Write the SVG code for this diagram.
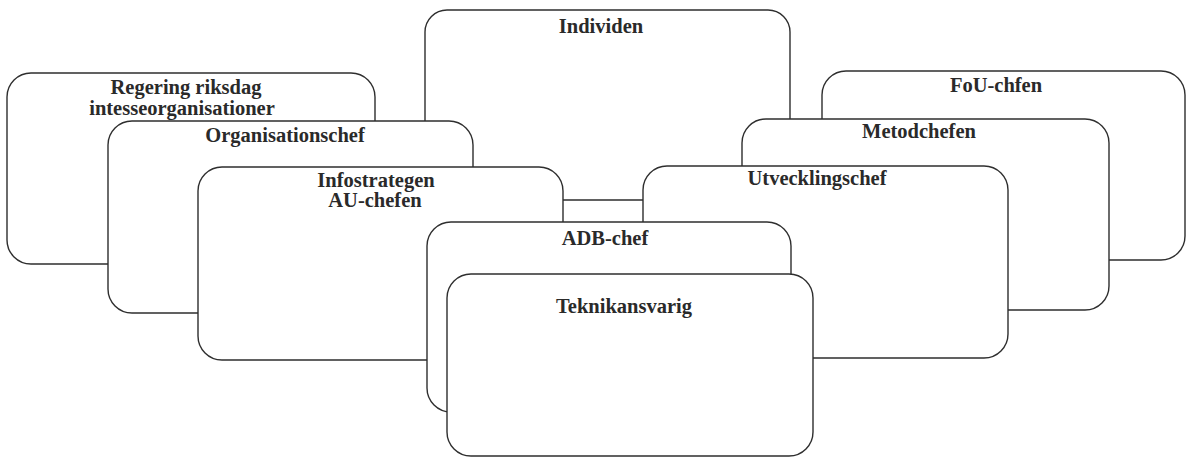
<svg xmlns="http://www.w3.org/2000/svg" width="1186" height="458" viewBox="0 0 1186 458">
<style>
.box{fill:#fff;stroke:#2e2e2e;stroke-width:1.4}
.t{font-family:"Liberation Serif","Times New Roman",serif;font-weight:bold;font-size:20.5px;fill:#2a2a2a;text-anchor:middle}
</style>
<rect width="1186" height="458" fill="#fff"/>
<g id="individen"><rect class="box" x="425" y="10" width="365" height="190" rx="22"/><text class="t" x="601" y="33">Individen</text></g>
<g id="regering"><rect class="box" x="7" y="73" width="368" height="191" rx="24"/><text class="t" x="186" y="94">Regering riksdag</text><text class="t" x="182" y="115">intesseorganisationer</text></g>
<g id="fou"><rect class="box" x="822" y="71" width="363" height="189" rx="24"/><text class="t" x="996" y="92">FoU-chfen</text></g>
<g id="organisation"><rect class="box" x="108" y="121" width="365" height="192" rx="24"/><text class="t" x="285" y="142">Organisationschef</text></g>
<g id="metod"><rect class="box" x="742" y="119" width="367" height="191" rx="24"/><text class="t" x="919" y="138">Metodchefen</text></g>
<g id="infostrategen"><rect class="box" x="198" y="167" width="365" height="193" rx="24"/><text class="t" x="376" y="187">Infostrategen</text><text class="t" x="375" y="207">AU-chefen</text></g>
<g id="utveckling"><rect class="box" x="643" y="166" width="365" height="192" rx="24"/><text class="t" x="817" y="185">Utvecklingschef</text></g>
<g id="adb"><rect class="box" x="427" y="222" width="364" height="190" rx="24"/><text class="t" x="605" y="245">ADB-chef</text></g>
<g id="teknik"><rect class="box" x="447" y="274" width="366" height="182" rx="24"/><text class="t" x="624" y="313">Teknikansvarig</text></g>
<g id="connectors"></g>
</svg>
